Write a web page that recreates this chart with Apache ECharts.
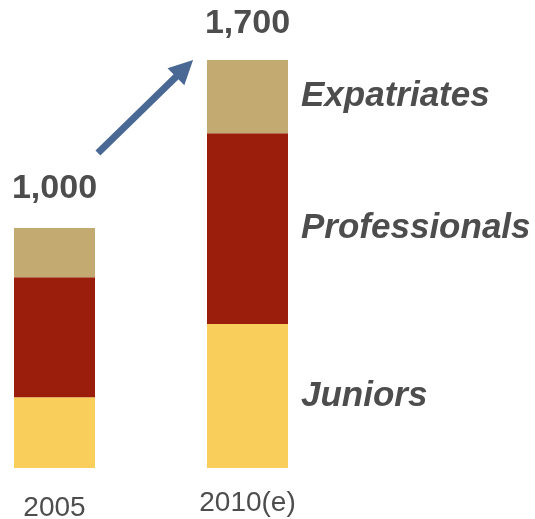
<!DOCTYPE html>
<html><head><meta charset="utf-8">
<script src="https://cdn.jsdelivr.net/npm/echarts@6/dist/echarts.min.js"></script>
<style>html,body{margin:0;padding:0;background:#fff}#c{width:535px;height:519px}</style>
</head><body><div id="c"></div>
<script>
const categories = ['2005', '2010(e)'];
const seriesNames = ['Juniors', 'Professionals', 'Expatriates'];
const juniors = [295, 600];
const professionals = [500, 795];
const expatriates = [205, 305];
// arrow from (category position, value) to (category position, value)
const arrowFrom = [0.225, 1312];
const arrowTo = [0.718, 1700];

const FONT = '"Liberation Sans", Arial, sans-serif';
const TXT = '#4d4d4d';
const colors = ['#F9CE5B', '#9A1E0B', '#C3AA71'];
const totals = categories.map((c, i) => juniors[i] + professionals[i] + expatriates[i]);
const totalDistance = [22, 19];

function seg(arr, idx) {
  return arr.map((v, i) => i === arr.length - 1 ? {
    value: v,
    label: {
      show: true, position: 'right', distance: 13,
      formatter: seriesNames[idx],
      fontFamily: FONT, fontSize: 35, fontWeight: 'bold', fontStyle: 'italic', color: TXT
    }
  } : v);
}

const chart = echarts.init(document.getElementById('c'));
chart.setOption({
  animation: false,
  grid: { left: 54.5, right: 287.5, top: 60, bottom: 51, containLabel: false, outerBoundsMode: 'none' },
  xAxis: {
    type: 'category', data: categories, boundaryGap: false,
    axisLine: { show: false }, axisTick: { show: false }, splitLine: { show: false },
    axisLabel: {
      margin: 21, color: TXT, fontFamily: FONT, fontSize: 28,
      formatter: v => v === categories[0] ? '{lo|' + v + '}' : '{hi|' + v + '}',
      rich: {
        lo: { fontFamily: FONT, fontSize: 28, color: TXT, padding: [5, 0, 0, 0] },
        hi: { fontFamily: FONT, fontSize: 28, color: TXT, padding: [0, 0, 0, 0] }
      }
    }
  },
  yAxis: { type: 'value', min: 0, max: 1700, show: false, splitLine: { show: false } },
  series: [
    { name: seriesNames[0], type: 'bar', stack: 's', barWidth: 81, clip: false,
      itemStyle: { color: colors[0] }, data: seg(juniors, 0) },
    { name: seriesNames[1], type: 'bar', stack: 's', barWidth: 81, clip: false,
      itemStyle: { color: colors[1] }, data: seg(professionals, 1) },
    { name: seriesNames[2], type: 'bar', stack: 's', barWidth: 81, clip: false,
      itemStyle: { color: colors[2] }, data: seg(expatriates, 2) },
    { name: 'total', type: 'bar', stack: 's', barWidth: 81, clip: false,
      itemStyle: { color: 'transparent' }, silent: true,
      data: totals.map((t, i) => ({ value: 0, label: { distance: totalDistance[i] } })),
      label: {
        show: true, position: 'top', distance: 22,
        formatter: p => totals[p.dataIndex].toLocaleString('en-US'),
        fontFamily: FONT, fontSize: 34, fontWeight: 'bold', color: TXT
      } }
  ]
});

function pt(a) {
  const p0 = chart.convertToPixel({ gridIndex: 0 }, [0, a[1]]);
  const p1 = chart.convertToPixel({ gridIndex: 0 }, [1, a[1]]);
  return [p0[0] + (p1[0] - p0[0]) * a[0], p0[1]];
}
const A = pt(arrowFrom), B = pt(arrowTo);
const dx = B[0] - A[0], dy = B[1] - A[1], L = Math.hypot(dx, dy);
const ux = dx / L, uy = dy / L, nx = -uy, ny = ux;
const headLen = 24, headW = 12;
const base = [B[0] - ux * headLen, B[1] - uy * headLen];
chart.setOption({
  graphic: [
    { type: 'line', shape: { x1: A[0], y1: A[1], x2: base[0] + ux * 2, y2: base[1] + uy * 2 },
      style: { stroke: '#4A6894', lineWidth: 7 } },
    { type: 'polygon', shape: { points: [B, [base[0] + nx * headW, base[1] + ny * headW], [base[0] - nx * headW, base[1] - ny * headW]] },
      style: { fill: '#4A6894' } }
  ]
});
</script></body></html>
